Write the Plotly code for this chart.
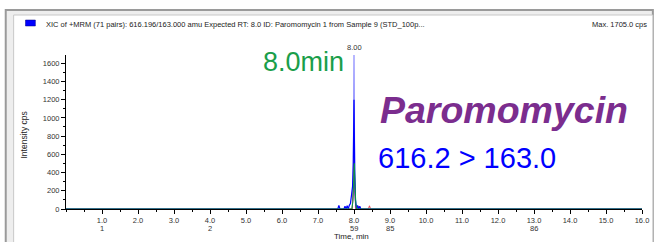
import plotly.graph_objects as go

W, H = 657, 242
L, R, T, B = 66, 8, 55, 33

# ---- data ----
t_blue = [0, 7.55, 7.58, 7.61, 7.64, 7.72, 7.75, 7.78, 7.81, 7.84, 7.87, 7.90, 7.93, 7.96, 7.98, 8.00, 8.02, 8.04, 8.07, 8.10, 8.13, 8.16, 8.19, 8.25, 16]
y_blue = [0, 0, 40, 0, 0, 0, 30, 0, 35, 0, 40, 60, 150, 250, 500, 1200, 400, 100, 0, 40, 0, 30, 0, 0, 0]

t_lblue = [0, 7.95, 7.98, 8.00, 8.02, 8.05, 16]
y_lblue = [0, 0, 350, 1705, 350, 0, 0]

t_red = [0, 7.95, 7.98, 8.00, 8.02, 8.05, 8.10, 8.13, 8.16, 8.40, 8.43, 8.46, 16]
y_red = [0, 0, 200, 750, 200, 0, 0, 30, 0, 0, 35, 0, 0]

t_green = [0, 7.94, 7.97, 7.99, 8.01, 8.03, 8.05, 8.08, 16]
y_green = [0, 0, 80, 300, 500, 250, 60, 0, 0]

x_ticks = [1, 2, 3, 4, 5, 6, 7, 8, 9, 10, 11, 12, 13, 14, 15, 16]
x_ticklabels = ["1.0", "2.0", "3.0", "4.0", "5.0", "6.0", "7.0", "8.0",
                "9.0", "10.0", "11.0", "12.0", "13.0", "14.0", "15.0", "16.0"]
scan_pos = [1, 4, 8, 9, 13]
scan_labels = ["1", "2", "59", "85", "86"]
y_ticks = [0, 200, 400, 600, 800, 1000, 1200, 1400, 1600]

title_text = "XIC of +MRM (71 pairs): 616.196/163.000 amu Expected RT: 8.0 ID: Paromomycin 1 from Sample 9 (STD_100p..."
max_text = "Max. 1705.0 cps"


def px(x):
    return (x - L) / (W - L - R)


def py(y):
    return (H - B - y) / (H - T - B)


fig = go.Figure()
fig.add_trace(go.Scatter(x=t_lblue, y=y_lblue, mode="lines", line=dict(color="#8c8cff", width=1.2), hoverinfo="skip"))
fig.add_trace(go.Scatter(x=t_red, y=y_red, mode="lines", line=dict(color="#e84050", width=1), hoverinfo="skip"))
fig.add_trace(go.Scatter(x=t_blue, y=y_blue, mode="lines", line=dict(color="#0000ff", width=1.2), hoverinfo="skip"))
fig.add_trace(go.Scatter(x=t_green, y=y_green, mode="lines", line=dict(color="#00a040", width=1), hoverinfo="skip"))
fig.add_trace(go.Scatter(x=[-0.12], y=[65], mode="markers", cliponaxis=False,
                         marker=dict(symbol="triangle-right", size=8, color="#0000c0"), hoverinfo="skip"))

shapes = [
    dict(type="rect", xref="paper", yref="paper", x0=px(5), x1=px(660), y0=py(10), y1=py(245),
         fillcolor="#eeeeee", line=dict(color="#9a9a9a", width=2), layer="below"),
    dict(type="rect", xref="paper", yref="paper", x0=px(13), x1=px(660), y0=py(15), y1=py(245),
         fillcolor="#ffffff", line=dict(color="#c8c8c8", width=1), layer="below"),
    dict(type="rect", xref="paper", yref="paper", x0=px(25), x1=px(35), y0=py(20), y1=py(26),
         fillcolor="#0000ff", line=dict(color="#000080", width=0.5)),
]

annotations = [
    dict(text=title_text, x=px(44), y=py(24), xref="paper", yref="paper", xanchor="left", yanchor="middle",
         showarrow=False, font=dict(size=7.5, color="#222222", family="Liberation Sans")),
    dict(text=max_text, x=px(656), y=py(24), xref="paper", yref="paper", xanchor="right", yanchor="middle",
         showarrow=False, font=dict(size=7.5, color="#222222", family="Liberation Sans")),
    dict(text="8.00", x=8.0, y=py(47), xref="x", yref="paper", xanchor="center", yanchor="middle",
         showarrow=False, font=dict(size=7.5, color="#333333", family="Liberation Sans")),
    dict(text="8.0min", x=px(306), y=py(62), xref="paper", yref="paper", xanchor="center", yanchor="middle",
         showarrow=False, font=dict(size=27, color="#1a9e4a", family="Liberation Sans")),
    dict(text="<b><i>Paromomycin</i></b>", x=px(509), y=py(110), xref="paper", yref="paper", xanchor="center",
         yanchor="middle", showarrow=False, font=dict(size=37.5, color="#7b2d8e", family="Liberation Sans")),
    dict(text="616.2 &gt; 163.0", x=px(472), y=py(158), xref="paper", yref="paper", xanchor="center",
         yanchor="middle", showarrow=False, font=dict(size=29, color="#0000ff", family="Liberation Sans")),
    dict(text="Intensity cps", x=px(23), y=py(135), xref="paper", yref="paper", xanchor="center",
         yanchor="middle", textangle=-90, showarrow=False, font=dict(size=8.5, color="#222222", family="Liberation Sans")),
    dict(text="Time, min", x=px(355), y=py(236), xref="paper", yref="paper", xanchor="center",
         yanchor="middle", showarrow=False, font=dict(size=8, color="#222222", family="Liberation Sans")),
]
for sp, sl in zip(scan_pos, scan_labels):
    annotations.append(dict(text=sl, x=sp, y=py(228), xref="x", yref="paper", xanchor="center", yanchor="middle",
                            showarrow=False, font=dict(size=7.5, color="#333333", family="Liberation Sans")))

fig.update_layout(
    width=W, height=H, autosize=False,
    margin=dict(l=L, r=R, t=T, b=B, pad=0),
    paper_bgcolor="white", plot_bgcolor="rgba(0,0,0,0)",
    showlegend=False,
    shapes=shapes, annotations=annotations,
    font=dict(family="Liberation Sans", size=7.5, color="#333333"),
    xaxis=dict(range=[0, 16], tickvals=x_ticks, ticktext=x_ticklabels, showgrid=False, zeroline=False,
               showline=True, linecolor="black", linewidth=1, ticks="outside", ticklen=4, tickcolor="black",
               minor=dict(ticks="outside", ticklen=2, dtick=0.5, tickcolor="black"),
               tickfont=dict(size=7.5, color="#333333")),
    yaxis=dict(range=[0, 1690], tickvals=y_ticks, showgrid=False, zeroline=False,
               showline=True, linecolor="black", linewidth=1, ticks="outside", ticklen=4, tickcolor="black",
               minor=dict(ticks="outside", ticklen=2, dtick=100, tickcolor="black"),
               tickfont=dict(size=7.5, color="#333333")),
)

fig.write_html("out.html", config={"displayModeBar": False, "staticPlot": True},
               post_script="document.body.style.margin='0';document.body.style.overflow='hidden';")
